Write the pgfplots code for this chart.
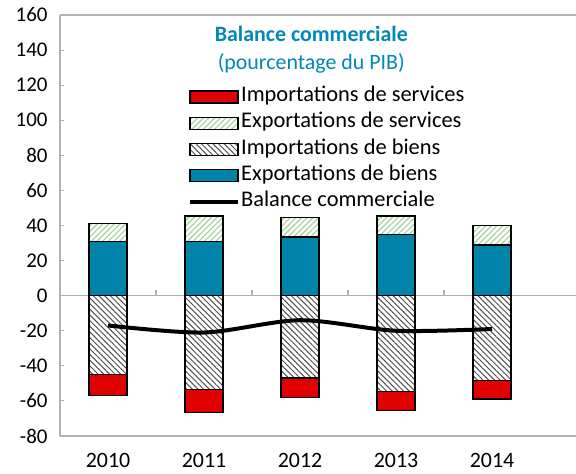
\documentclass[border=0pt]{standalone}
\usepackage{pgfplots}
\pgfplotsset{compat=1.18}
\usepackage{fontspec}
\setmainfont{Carlito}
\usetikzlibrary{patterns.meta}
\definecolor{bleu}{RGB}{0,131,168}
\definecolor{rouge}{RGB}{224,0,0}
\definecolor{vert}{RGB}{160,210,150}
\definecolor{hach}{RGB}{80,80,80}
\definecolor{titre}{RGB}{0,136,184}
\definecolor{axe}{RGB}{178,178,178}
\pgfplotsset{
  barlegend/.style={legend image code/.code={\draw[##1] (0bp,-6bp) rectangle (48bp,6bp);}},
  linelegend/.style={legend image code/.code={\draw[##1] (0bp,0bp) -- (48bp,0bp);}},
}
\begin{document}
\begin{tikzpicture}
\begin{axis}[
  scale only axis, width=516bp, height=421bp,
  xmin=-0.5, xmax=4.875, ymin=-80, ymax=160,
  ytick={-80,-60,...,160},
  xtick={0,1,2,3,4}, xticklabels={2010,2011,2012,2013,2014},
  axis x line*=box, axis y line*=left,
  axis line style={draw=axe, line width=1.5bp, -},
  tick align=inside,
  major tick length=4bp,
  y tick style={draw=axe, line width=1bp},
  x tick style={draw=none},
  /pgf/number format/assume math mode=true,
  yticklabel style={font=\fontsize{21}{21}\selectfont, xshift=-9bp},
  xticklabel style={font=\fontsize{22}{22}\selectfont, yshift=-14bp},
  legend style={at={(axis description cs:0.248,0.828)}, anchor=north west,
    draw=none, fill=none, inner sep=0pt, row sep=7.2bp,
    font=\fontsize{22.5}{22.5}\selectfont,
    nodes={inner sep=1bp, text height=13bp, text depth=4bp},
    /tikz/every even column/.append style={column sep=3bp}},
  legend cell align=left,
]
\coordinate (SW) at (rel axis cs:0,0);
\coordinate (NE) at (rel axis cs:1,1);
\draw[axe, line width=1.5bp] (axis cs:-0.5,0) -- (axis cs:4.875,0);
\draw[axe, line width=1.5bp] (axis cs:0.5,0) -- (axis cs:0.5,3);
\draw[axe, line width=1.5bp] (axis cs:1.5,0) -- (axis cs:1.5,3);
\draw[axe, line width=1.5bp] (axis cs:2.5,0) -- (axis cs:2.5,3);
\draw[axe, line width=1.5bp] (axis cs:3.5,0) -- (axis cs:3.5,3);

% Importations de services (total imports, drawn below goods imports)
\addplot[ybar, bar width=38bp, bar shift=0pt, fill=rouge, draw=black, line width=1.5bp, barlegend]
  coordinates {(0,-57) (1,-66.5) (2,-58) (3,-65.5) (4,-59)};
\addlegendentry{Importations de services}
% Exportations de services (total exports)
\addplot[ybar, bar width=38bp, bar shift=0pt, fill=white, draw=black, line width=1.5bp,
  postaction={pattern={Lines[angle=45,distance=4bp,line width=1.1bp]}, pattern color=vert}, barlegend]
  coordinates {(0,41) (1,45.5) (2,44.5) (3,45.5) (4,40)};
\addlegendentry{Exportations de services}
% Importations de biens
\addplot[ybar, bar width=38bp, bar shift=0pt, fill=white, draw=black, line width=1.5bp,
  postaction={pattern={Lines[angle=-45,distance=4bp,line width=1bp]}, pattern color=hach}, barlegend]
  coordinates {(0,-45) (1,-53.5) (2,-47) (3,-54.5) (4,-48.5)};
\addlegendentry{Importations de biens}
% Exportations de biens
\addplot[ybar, bar width=38bp, bar shift=0pt, fill=bleu, draw=black, line width=1.5bp, barlegend]
  coordinates {(0,31) (1,31) (2,33.5) (3,35) (4,29)};
\addlegendentry{Exportations de biens}
% Balance commerciale
\addplot[smooth, black, line width=4bp, mark=none, linelegend]
  coordinates {(0,-17) (1,-21) (2,-14) (3,-20) (4,-19)};
\addlegendentry{Balance commerciale}

\node[font=\bfseries\fontsize{22}{22}\selectfont, text=titre] at (rel axis cs:0.487,0.955) {Balance commerciale};
\node[font=\fontsize{22}{22}\selectfont, text=titre] at (rel axis cs:0.487,0.885) {(pourcentage du PIB)};
\end{axis}
\pgfresetboundingbox
\path ([xshift=-60bp,yshift=-38bp]SW) rectangle ([yshift=15bp]NE);
\end{tikzpicture}
\end{document}
